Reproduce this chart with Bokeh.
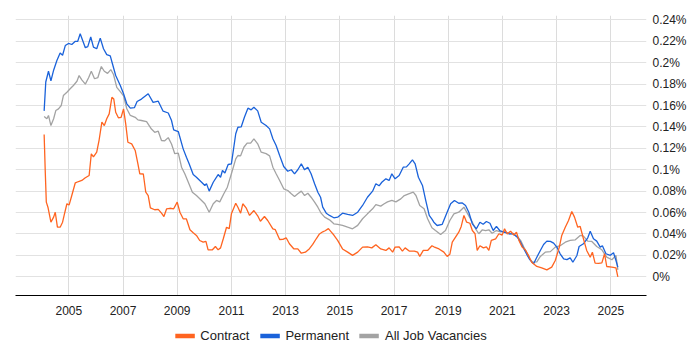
from bokeh.plotting import figure
from bokeh.layouts import column
from bokeh.models import (Range1d, FixedTicker, CustomJSTickFormatter, Legend, LegendItem)
from bokeh.embed import file_html
from bokeh.resources import INLINE

# ---- data (percent of all job vacancies) ----
contract_x = [2004.09, 2004.13, 2004.17, 2004.23, 2004.34, 2004.44, 2004.50, 2004.58, 2004.68, 2004.77,
              2004.84, 2004.93, 2005.01, 2005.11, 2005.24, 2005.36, 2005.48, 2005.61, 2005.75, 2005.83,
              2005.91, 2006.03, 2006.12, 2006.22, 2006.31, 2006.40, 2006.49, 2006.59, 2006.66, 2006.73,
              2006.83, 2006.93, 2007.02, 2007.10, 2007.18, 2007.32, 2007.45, 2007.55, 2007.62, 2007.75,
              2007.84, 2007.93, 2008.01, 2008.17, 2008.30, 2008.42, 2008.51, 2008.61, 2008.73, 2008.87,
              2009.00, 2009.10, 2009.22, 2009.34, 2009.47, 2009.59, 2009.71, 2009.83, 2009.96, 2010.06,
              2010.14, 2010.30, 2010.41, 2010.51, 2010.60, 2010.70, 2010.82, 2010.92, 2011.00, 2011.16,
              2011.24, 2011.34, 2011.42, 2011.55, 2011.67, 2011.83, 2011.97, 2012.07, 2012.22, 2012.34,
              2012.53, 2012.62, 2012.78, 2012.90, 2013.02, 2013.14, 2013.30, 2013.45, 2013.58, 2013.73,
              2013.88, 2014.00, 2014.13, 2014.25, 2014.37, 2014.46, 2014.58, 2014.68, 2014.78, 2014.92,
              2015.10, 2015.29, 2015.47, 2015.66, 2015.84, 2016.02, 2016.18, 2016.33, 2016.51, 2016.70,
              2016.82, 2016.95, 2017.04, 2017.19, 2017.31, 2017.41, 2017.56, 2017.75, 2017.87, 2017.95,
              2018.08, 2018.24, 2018.40, 2018.47, 2018.66, 2018.84, 2018.96, 2019.06, 2019.15, 2019.27,
              2019.39, 2019.48, 2019.58, 2019.68, 2019.80, 2019.89, 2019.99, 2020.07, 2020.17, 2020.30,
              2020.41, 2020.50, 2020.59, 2020.75, 2020.87, 2020.99, 2021.08, 2021.18, 2021.30, 2021.42,
              2021.52, 2021.61, 2021.73, 2021.85, 2021.96, 2022.08, 2022.27, 2022.45, 2022.64, 2022.82,
              2022.95, 2023.10, 2023.19, 2023.32, 2023.44, 2023.56, 2023.66, 2023.78, 2023.87, 2023.99,
              2024.11, 2024.24, 2024.32, 2024.42, 2024.55, 2024.67, 2024.77, 2024.85, 2025.04, 2025.19,
              2025.26]
contract_y = [0.133, 0.099, 0.0697, 0.065, 0.051, 0.0557, 0.0603, 0.0463, 0.0463, 0.051,
              0.0588, 0.0682, 0.067, 0.0759, 0.0878, 0.089, 0.090, 0.0925, 0.0946, 0.1149,
              0.112, 0.1164, 0.128, 0.1444, 0.1413, 0.1476, 0.1522, 0.1677, 0.166, 0.1537,
              0.1485, 0.149, 0.1569, 0.1429, 0.1257, 0.1242, 0.118, 0.1055, 0.0962, 0.096,
              0.079, 0.0759, 0.0644, 0.0626, 0.063, 0.0594, 0.0563, 0.0635, 0.064, 0.0635,
              0.0697, 0.0603, 0.0542, 0.054, 0.0439, 0.0411, 0.0386, 0.0339, 0.0323, 0.033,
              0.0252, 0.0252, 0.0283, 0.0252, 0.027, 0.0355, 0.0463, 0.045, 0.0588, 0.0687,
              0.065, 0.0594, 0.0682, 0.0641, 0.0573, 0.0619, 0.057, 0.0519, 0.0563, 0.0526,
              0.0448, 0.044, 0.0348, 0.035, 0.0364, 0.0308, 0.0262, 0.026, 0.022, 0.023,
              0.0262, 0.0302, 0.0355, 0.040, 0.042, 0.043, 0.045, 0.042, 0.039, 0.034,
              0.026, 0.023, 0.020, 0.023, 0.0277, 0.028, 0.027, 0.030, 0.026, 0.0246,
              0.027, 0.023, 0.0277, 0.028, 0.024, 0.027, 0.024, 0.024, 0.023, 0.019,
              0.0246, 0.0246, 0.029, 0.028, 0.026, 0.023, 0.019, 0.021, 0.0323, 0.037,
              0.0417, 0.047, 0.0573, 0.051, 0.050, 0.0432, 0.0402, 0.0246, 0.029, 0.027,
              0.028, 0.0246, 0.034, 0.0355, 0.0402, 0.039, 0.0448, 0.040, 0.0426, 0.039,
              0.0417, 0.034, 0.0277, 0.025, 0.020, 0.0136, 0.0096, 0.0084, 0.0065, 0.009,
              0.0152, 0.0277, 0.0386, 0.0463, 0.0526, 0.0610, 0.0557, 0.0463, 0.047, 0.0355,
              0.0246, 0.0183, 0.023, 0.0127, 0.0125, 0.013, 0.0215, 0.0096, 0.009, 0.0084,
              0.0]

permanent_x = [2004.09, 2004.15, 2004.25, 2004.34, 2004.44, 2004.56, 2004.68, 2004.77, 2004.87, 2004.99,
               2005.11, 2005.24, 2005.33, 2005.42, 2005.61, 2005.70, 2005.81, 2005.91, 2006.03, 2006.16,
               2006.28, 2006.40, 2006.53, 2006.61, 2006.73, 2006.90, 2007.02, 2007.14, 2007.27, 2007.42,
               2007.52, 2007.68, 2007.93, 2008.11, 2008.30, 2008.48, 2008.67, 2008.79, 2008.87, 2009.04,
               2009.22, 2009.34, 2009.44, 2009.59, 2009.71, 2009.90, 2010.02, 2010.08, 2010.18, 2010.33,
               2010.51, 2010.60, 2010.67, 2010.76, 2010.88, 2011.00, 2011.16, 2011.24, 2011.36, 2011.48,
               2011.61, 2011.73, 2011.83, 2011.97, 2012.10, 2012.28, 2012.41, 2012.53, 2012.65, 2012.78,
               2012.93, 2013.08, 2013.21, 2013.33, 2013.45, 2013.58, 2013.70, 2013.82, 2013.94, 2014.07,
               2014.19, 2014.29, 2014.37, 2014.50, 2014.62, 2014.78, 2014.92, 2015.10, 2015.29, 2015.47,
               2015.66, 2015.84, 2016.02, 2016.21, 2016.33, 2016.45, 2016.55, 2016.70, 2016.82, 2016.92,
               2017.04, 2017.19, 2017.34, 2017.46, 2017.56, 2017.68, 2017.78, 2017.90, 2018.05, 2018.17,
               2018.30, 2018.40, 2018.47, 2018.59, 2018.78, 2018.96, 2019.09, 2019.23, 2019.39, 2019.52,
               2019.64, 2019.76, 2019.89, 2020.04, 2020.17, 2020.29, 2020.41, 2020.54, 2020.66, 2020.78,
               2020.90, 2021.05, 2021.24, 2021.40, 2021.55, 2021.67, 2021.79, 2021.92, 2022.01, 2022.15,
               2022.27, 2022.40, 2022.52, 2022.64, 2022.77, 2022.89, 2023.01, 2023.13, 2023.26, 2023.38,
               2023.50, 2023.60, 2023.75, 2023.83, 2023.99, 2024.15, 2024.24, 2024.36, 2024.48, 2024.61,
               2024.69, 2024.82, 2024.98, 2025.10, 2025.19, 2025.26]
permanent_y = [0.155, 0.182, 0.192, 0.183, 0.193, 0.202, 0.209, 0.207, 0.216, 0.218,
               0.217, 0.220, 0.220, 0.227, 0.214, 0.215, 0.224, 0.2145, 0.213, 0.223,
               0.213, 0.2076, 0.2064, 0.199, 0.188, 0.1787, 0.171, 0.1616, 0.1575, 0.158,
               0.1637, 0.166, 0.171, 0.163, 0.164, 0.1547, 0.153, 0.146, 0.1373, 0.1357,
               0.1195, 0.1117, 0.1055, 0.0955, 0.093, 0.0883, 0.0853, 0.087, 0.080, 0.0883,
               0.0955, 0.093, 0.0993, 0.097, 0.1049, 0.1055, 0.1336, 0.1397, 0.140, 0.149,
               0.1575, 0.156, 0.1584, 0.155, 0.1444, 0.1413, 0.1382, 0.1289, 0.1226, 0.1133,
               0.103, 0.0986, 0.100, 0.0962, 0.100, 0.1055, 0.0999, 0.1024, 0.0962, 0.0869,
               0.079, 0.0743, 0.065, 0.0594, 0.0573, 0.0551, 0.0557, 0.0594, 0.0582, 0.0573,
               0.0603, 0.0666, 0.0743, 0.080, 0.0869, 0.085, 0.0883, 0.0915, 0.090, 0.0962,
               0.0915, 0.0946, 0.1024, 0.1027, 0.1055, 0.1093, 0.1055, 0.093, 0.0853, 0.0713,
               0.0573, 0.0538, 0.051, 0.0479, 0.049, 0.0603, 0.0682, 0.0713, 0.0687, 0.069,
               0.0666, 0.0603, 0.0495, 0.0448, 0.051, 0.049, 0.0516, 0.050, 0.0432, 0.047,
               0.0432, 0.0417, 0.0402, 0.040, 0.037, 0.0323, 0.0262, 0.0199, 0.016, 0.0121,
               0.0183, 0.0246, 0.0302, 0.0333, 0.033, 0.0314, 0.0277, 0.0215, 0.0168, 0.016,
               0.0177, 0.0136, 0.0199, 0.0283, 0.0308, 0.0364, 0.0426, 0.0355, 0.0333, 0.0277,
               0.029, 0.0215, 0.020, 0.0224, 0.0152, 0.009]

all_x = [2004.09, 2004.19, 2004.25, 2004.34, 2004.44, 2004.52, 2004.62, 2004.72, 2004.80, 2004.93,
         2005.05, 2005.17, 2005.30, 2005.38, 2005.48, 2005.61, 2005.73, 2005.83, 2005.95, 2006.07,
         2006.20, 2006.31, 2006.43, 2006.55, 2006.65, 2006.77, 2006.90, 2007.02, 2007.14, 2007.27,
         2007.45, 2007.55, 2007.68, 2007.87, 2008.05, 2008.17, 2008.30, 2008.42, 2008.54, 2008.67,
         2008.79, 2008.91, 2009.04, 2009.16, 2009.28, 2009.41, 2009.56, 2009.71, 2009.90, 2010.02,
         2010.18, 2010.33, 2010.45, 2010.57, 2010.72, 2010.85, 2011.00, 2011.16, 2011.24, 2011.34,
         2011.46, 2011.58, 2011.71, 2011.83, 2011.97, 2012.10, 2012.28, 2012.41, 2012.53, 2012.65,
         2012.78, 2012.93, 2013.08, 2013.21, 2013.33, 2013.45, 2013.58, 2013.70, 2013.82, 2013.94,
         2014.07, 2014.19, 2014.31, 2014.44, 2014.62, 2014.78, 2014.92, 2015.10, 2015.29, 2015.47,
         2015.66, 2015.84, 2016.02, 2016.21, 2016.33, 2016.51, 2016.64, 2016.76, 2016.92, 2017.07,
         2017.25, 2017.38, 2017.54, 2017.71, 2017.81, 2017.95, 2018.11, 2018.24, 2018.40, 2018.53,
         2018.72, 2018.90, 2019.06, 2019.21, 2019.39, 2019.58, 2019.72, 2019.89, 2020.01, 2020.13,
         2020.26, 2020.38, 2020.50, 2020.62, 2020.78, 2020.93, 2021.08, 2021.24, 2021.40, 2021.55,
         2021.67, 2021.79, 2021.92, 2022.01, 2022.11, 2022.27, 2022.40, 2022.58, 2022.77, 2022.95,
         2023.13, 2023.32, 2023.50, 2023.69, 2023.87, 2023.99, 2024.15, 2024.30, 2024.48, 2024.67,
         2024.85, 2025.04, 2025.19, 2025.26]
all_y = [0.1497, 0.1476, 0.1507, 0.1413, 0.1476, 0.1553, 0.1569, 0.160, 0.1693, 0.1724,
         0.1756, 0.1787, 0.1827, 0.188, 0.184, 0.180, 0.186, 0.192, 0.185, 0.186,
         0.1964, 0.192, 0.190, 0.1936, 0.189, 0.177, 0.173, 0.169, 0.157, 0.1507,
         0.149, 0.1466, 0.146, 0.145, 0.138, 0.135, 0.136, 0.1273, 0.127, 0.130,
         0.124, 0.115, 0.1155, 0.1024, 0.0962, 0.0883, 0.079, 0.0759, 0.0713, 0.0682,
         0.0603, 0.0682, 0.0713, 0.070, 0.0775, 0.0837, 0.0962, 0.1102, 0.1133, 0.113,
         0.121, 0.1248, 0.1248, 0.1289, 0.1242, 0.1164, 0.115, 0.113, 0.1024, 0.0962,
         0.090, 0.0822, 0.0806, 0.0775, 0.075, 0.0775, 0.080, 0.0759, 0.078, 0.0743,
         0.0697, 0.065, 0.0594, 0.0557, 0.0532, 0.0495, 0.049, 0.048, 0.0463, 0.0448,
         0.048, 0.0542, 0.0588, 0.0635, 0.0675, 0.066, 0.0682, 0.070, 0.0713, 0.070,
         0.0728, 0.0759, 0.0775, 0.079, 0.0759, 0.0666, 0.0635, 0.0542, 0.0458, 0.0432,
         0.0395, 0.0432, 0.0526, 0.0588, 0.0603, 0.065, 0.0588, 0.051, 0.0448, 0.0402,
         0.0439, 0.043, 0.0439, 0.0407, 0.0432, 0.042, 0.0425, 0.0402, 0.0405, 0.0376,
         0.034, 0.0277, 0.0215, 0.0168, 0.0136, 0.014, 0.019, 0.023, 0.0235, 0.0277,
         0.029, 0.0323, 0.034, 0.0345, 0.0386, 0.038, 0.0333, 0.033, 0.0283, 0.0252,
         0.0183, 0.0159, 0.020, 0.0065]

y_ticks = [0.0, 0.02, 0.04, 0.06, 0.08, 0.10, 0.12, 0.14, 0.16, 0.18, 0.20, 0.22, 0.24]
x_ticks = [2005, 2007, 2009, 2011, 2013, 2015, 2017, 2019, 2021, 2023, 2025]

series_names = ["Contract", "Permanent", "All Job Vacancies"]
series_colors = ["#FF6420", "#1A62DA", "#A3A3A3"]

FONT = "Liberation Sans"
TEXT = "#222222"

# ---- main chart ----
p = figure(frame_width=631, frame_height=280, output_backend="svg", toolbar_location=None,
           x_range=Range1d(2003.033, 2026.317), y_range=Range1d(-0.0175, 0.2441),
           y_axis_location="right", min_border_left=15, min_border_top=15,
           min_border_right=54, min_border_bottom=25)
p.outline_line_color = None
p.background_fill_color = "white"
p.border_fill_color = "white"

xa = p.xaxis[0]
xa.ticker = FixedTicker(ticks=x_ticks)
xa.major_tick_line_color = None
xa.minor_tick_line_color = None
xa.axis_line_color = "#000000"
xa.axis_line_width = 1
xa.major_label_standoff = 4
xa.major_label_text_font = FONT
xa.major_label_text_font_size = "12px"
xa.major_label_text_color = TEXT

ya = p.yaxis[0]
ya.ticker = FixedTicker(ticks=y_ticks)
ya.formatter = CustomJSTickFormatter(code="return (Math.round(tick*100)/100) + '%';")
ya.major_tick_line_color = None
ya.minor_tick_line_color = None
ya.axis_line_color = None
ya.major_label_standoff = 0
ya.major_label_text_font = FONT
ya.major_label_text_font_size = "12px"
ya.major_label_text_color = TEXT

p.xgrid.ticker = FixedTicker(ticks=x_ticks)
p.xgrid.grid_line_color = "#dcdcdc"
p.ygrid.ticker = FixedTicker(ticks=y_ticks)
p.ygrid.grid_line_color = "#e2e2e2"

p.line(all_x, all_y, line_color=series_colors[2], line_width=1.3)
p.line(permanent_x, permanent_y, line_color=series_colors[1], line_width=1.3)
p.line(contract_x, contract_y, line_color=series_colors[0], line_width=1.3)

# ---- legend strip (separate small figure under the chart) ----
lf = figure(frame_width=631, frame_height=30, output_backend="svg", toolbar_location=None,
            x_axis_type=None, y_axis_type=None, x_range=Range1d(0, 1), y_range=Range1d(0, 1),
            min_border_left=15, min_border_right=54, min_border_top=0, min_border_bottom=0)
lf.outline_line_color = None
lf.border_fill_color = "white"
lf.background_fill_color = "white"

nan = float("nan")
items = []
for name, col in zip(series_names, series_colors):
    r = lf.line([nan], [nan], line_color=col, line_width=4.5)
    items.append(LegendItem(label=name, renderers=[r]))

legend = Legend(items=items, orientation="horizontal", location="center",
                glyph_width=20, glyph_height=14, label_height=14, label_standoff=6,
                spacing=10, padding=0, margin=0,
                label_text_font=FONT, label_text_font_size="13px", label_text_color=TEXT,
                border_line_color=None, background_fill_alpha=0)
lf.add_layout(legend, "center")

layout = column(p, lf, spacing=0)
open("out.html", "w").write(file_html(layout, INLINE))
